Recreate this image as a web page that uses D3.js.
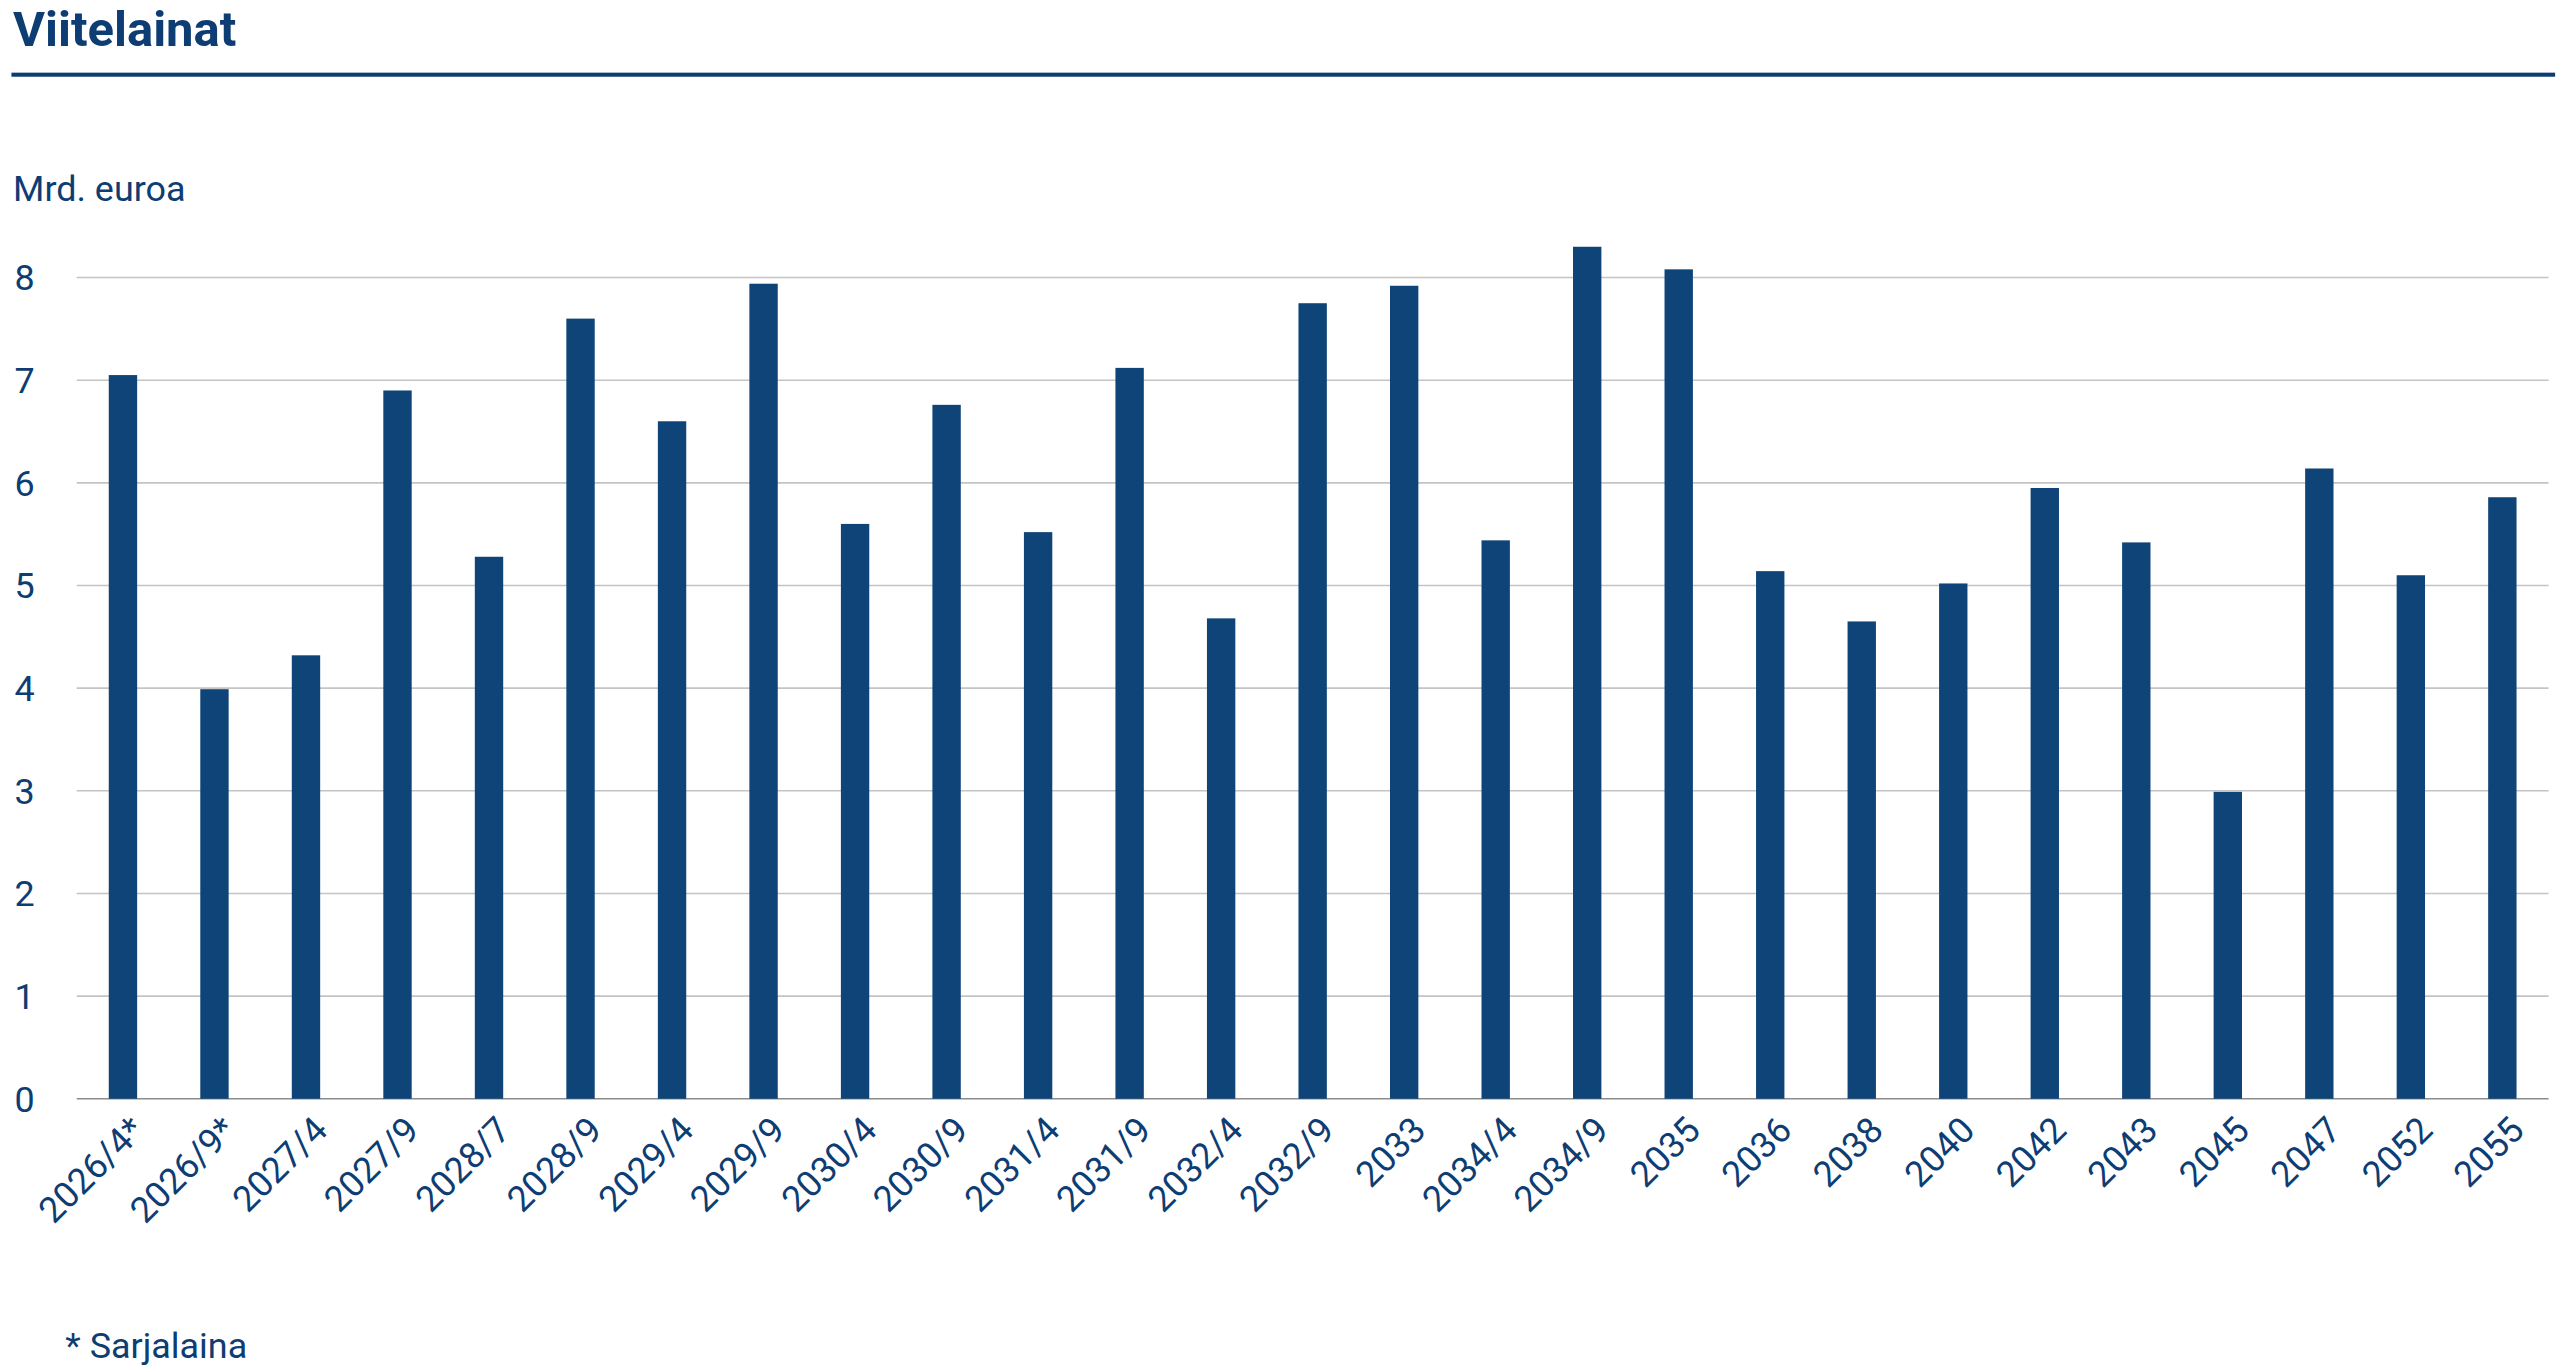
<!DOCTYPE html>
<html><head><meta charset="utf-8">
<script src="https://cdn.jsdelivr.net/npm/d3@7.9.0/dist/d3.min.js"></script>
<style>body{margin:0;background:#fff;font-family:Roboto,sans-serif}</style>
</head><body><svg id="chart" width="2560" height="1371"></svg>
<script>
const labels = ["2026/4*","2026/9*","2027/4","2027/9","2028/7","2028/9","2029/4","2029/9","2030/4","2030/9","2031/4","2031/9","2032/4","2032/9","2033","2034/4","2034/9","2035","2036","2038","2040","2042","2043","2045","2047","2052","2055"];
const values = [7.05,3.99,4.32,6.9,5.28,7.6,6.6,7.94,5.6,6.76,5.52,7.12,4.68,7.75,7.92,5.44,8.3,8.08,5.14,4.65,5.02,5.95,5.42,2.99,6.14,5.1,5.86];
const yTicks = [0,1,2,3,4,5,6,7,8];

const k = 2560/1568;
const navy = "#0e4478", text = "#0d3d73";
const svg = d3.select("#chart");

svg.append("text").attr("x", 8*k).attr("y", 28*k).attr("fill", text)
  .attr("font-size", 30*k).attr("font-weight", 700).text("Viitelainat");
svg.append("rect").attr("x", 7*k).attr("y", 44.5*k).attr("width", 1558*k).attr("height", 2.5*k).attr("fill", text);
svg.append("text").attr("x", 8*k).attr("y", 123*k).attr("fill", text)
  .attr("font-size", 22*k).text("Mrd. euroa");
svg.append("text").attr("x", 40*k).attr("y", 832*k).attr("fill", text)
  .attr("font-size", 22*k).text("* Sarjalaina");

const x = d3.scaleBand().domain(labels).range([47*k, 1561*k]).paddingInner(0.69).paddingOuter(0.35);
const y = d3.scaleLinear().domain([0, 8]).range([673*k, 170*k]);

const grid = svg.append("g");
grid.selectAll("line").data(yTicks).join("line")
  .attr("x1", 47*k).attr("x2", 1561*k)
  .attr("y1", d => y(d)).attr("y2", d => y(d))
  .attr("stroke", d => d === 0 ? "#8c8c8c" : "#c4c4c4").attr("stroke-width", 1.6);
grid.selectAll("text").data(yTicks).join("text")
  .attr("x", 15*k).attr("y", d => y(d)).attr("dy", "0.36em")
  .attr("text-anchor", "middle").attr("fill", text).attr("font-size", 22*k).text(d => d);

svg.append("g").selectAll("rect").data(values).join("rect")
  .attr("x", (d, i) => x(labels[i])).attr("width", x.bandwidth())
  .attr("y", d => y(d)).attr("height", d => y(0) - y(d)).attr("fill", navy);

svg.append("g").selectAll("text").data(labels).join("text")
  .attr("transform", d => `translate(${x(d) + x.bandwidth()/2 + 9*k},${688*k}) rotate(-45)`)
  .attr("text-anchor", "end").attr("dy", "0.35em").attr("fill", text)
  .attr("font-size", 22*k).text(d => d);
</script></body></html>
